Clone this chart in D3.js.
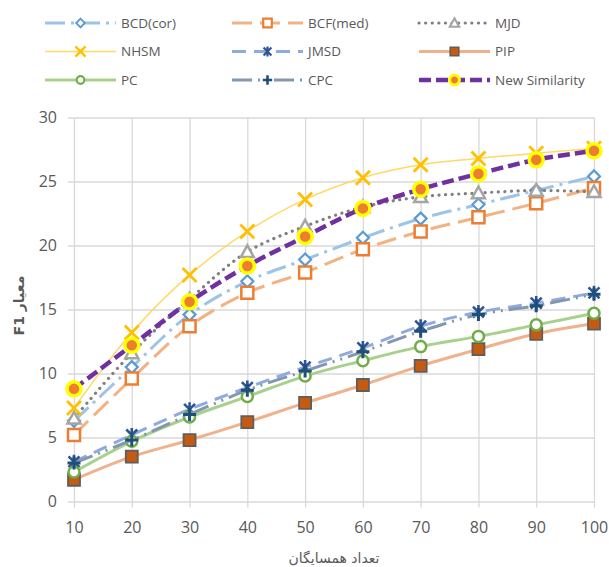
<!DOCTYPE html>
<html>
<head>
<meta charset="utf-8">
<script src="https://cdn.jsdelivr.net/npm/d3@7"></script>
<style>
  html, body { margin: 0; padding: 0; background: #ffffff; }
  svg { display: block; }
</style>
</head>
<body>
<svg id="chart" width="609" height="567"></svg>
<script>
// Neighbour counts on the category axis
const neighbours = [10, 20, 30, 40, 50, 60, 70, 80, 90, 100];
const yTicks = [0, 5, 10, 15, 20, 25, 30];

// F1 per method
const bcdCor = [6.3, 10.5, 14.6, 17.2, 18.9, 20.6, 22.1, 23.2, 24.3, 25.4];
const bcfMed = [5.2, 9.6, 13.7, 16.3, 17.9, 19.7, 21.1, 22.2, 23.3, 24.5];
const mjd    = [6.5, 11.6, 15.8, 19.5, 21.5, 23.0, 23.8, 24.1, 24.3, 24.2];
const nhsm   = [7.3, 13.2, 17.7, 21.1, 23.6, 25.3, 26.3, 26.8, 27.2, 27.6];
const jmsd   = [3.1, 5.2, 7.2, 8.9, 10.5, 12.0, 13.7, 14.8, 15.5, 16.3];
const pip    = [1.7, 3.5, 4.8, 6.2, 7.7, 9.1, 10.6, 11.9, 13.1, 13.9];
const pc     = [2.3, 4.7, 6.6, 8.2, 9.8, 11.0, 12.1, 12.9, 13.8, 14.7];
const cpc    = [3.0, 4.8, 6.8, 8.7, 10.2, 11.7, 13.3, 14.6, 15.3, 16.2];
const newSim = [8.8, 12.2, 15.6, 18.4, 20.7, 22.9, 24.4, 25.6, 26.7, 27.4];

const seriesNames = ["BCD(cor)", "BCF(med)", "MJD", "NHSM", "JMSD", "PIP", "PC", "CPC", "New Similarity"];
const seriesValues = [bcdCor, bcfMed, mjd, nhsm, jmsd, pip, pc, cpc, newSim];

// Visual style for each series (same order as names)
const styles = [
  { line: "#9DC3E6", width: 3,   dash: "20 6 3 6",        cap: "butt",  marker: "diamond",  stroke: "#5B9BD5", fill: "#ffffff", sw: 2.2, size: 12 },
  { line: "#F4B183", width: 3,   dash: "20 8",            cap: "butt",  marker: "square",   stroke: "#ED7D31", fill: "#ffffff", sw: 2.5, size: 12 },
  { line: "#7F7F7F", width: 3.2, dash: "0.1 6.5",         cap: "round", marker: "triangle", stroke: "#A5A5A5", fill: "#ffffff", sw: 2.5, size: 13 },
  { line: "#FFD966", width: 1.5, dash: null,              cap: "butt",  marker: "x",        stroke: "#FFC000", fill: "none",    sw: 2.8, size: 14 },
  { line: "#8FAADC", width: 3,   dash: "14 8",            cap: "butt",  marker: "star",     stroke: "#2F5597", fill: "none",    sw: 2.6, size: 14 },
  { line: "#F0B28C", width: 3,   dash: null,              cap: "butt",  marker: "square",   stroke: "#5E5E5E", fill: "#C55A11", sw: 1.8, size: 12 },
  { line: "#A9D18E", width: 3,   dash: null,              cap: "butt",  marker: "circle",   stroke: "#70AD47", fill: "#ffffff", sw: 2.5, size: 12 },
  { line: "#8497B0", width: 3,   dash: "20 6 2 6 2 6",    cap: "butt",  marker: "plus",     stroke: "#1F4E79", fill: "none",    sw: 3,   size: 13 },
  { line: "#7030A0", width: 4.5, dash: "12 5",            cap: "butt",  marker: "circle",   stroke: "#FFFF00", fill: "#ED7D31", sw: 3.5, size: 15 }
];

const svg = d3.select("#chart");

const plot = { left: 68, right: 594, top: 117.5, bottom: 501.5 };
const x = d3.scaleLinear().domain([10, 100]).range([74, 594]);
const y = d3.scaleLinear().domain([0, 30]).range([plot.bottom, plot.top]);

const textColor = "#595959";
const gridColor = "#D9D9D9";

// Horizontal gridlines + value labels
const yAxis = svg.append("g")
  .attr("transform", `translate(${plot.left},0)`)
  .call(d3.axisLeft(y).tickValues(yTicks).tickSize(-(plot.right - plot.left)).tickPadding(11).tickFormat(d3.format("d")));
yAxis.select(".domain").remove();
yAxis.selectAll("line").attr("stroke", gridColor).attr("stroke-width", 1.3);
yAxis.selectAll("text").attr("fill", textColor).attr("font-size", 16).attr("font-family", "'Open Sans', sans-serif");

// Vertical gridlines + category labels
const xAxis = svg.append("g")
  .attr("transform", `translate(0,${plot.bottom + 6})`)
  .call(d3.axisBottom(x).tickValues(neighbours).tickSize(-(plot.bottom + 6 - plot.top)).tickPadding(14).tickFormat(d3.format("d")));
xAxis.select(".domain").remove();
xAxis.selectAll("line").attr("stroke", gridColor).attr("stroke-width", 1.3);
xAxis.selectAll("text").attr("fill", textColor).attr("font-size", 16).attr("font-family", "'Open Sans', sans-serif");

// Marker path builder
function markerPath(type, s) {
  const h = s / 2;
  switch (type) {
    case "diamond":  return `M0,${-h}L${h},0L0,${h}L${-h},0Z`;
    case "square":   return `M${-h},${-h}H${h}V${h}H${-h}Z`;
    case "triangle": return `M0,${-h}L${h},${h * 0.8}L${-h},${h * 0.8}Z`;
    case "x":        return `M${-h},${-h}L${h},${h}M${h},${-h}L${-h},${h}`;
    case "plus":     return `M${-h},0H${h}M0,${-h}V${h}`;
    case "star": {
      const d = h * 0.78;
      return `M0,${-h}V${h}M${-d},${-d}L${d},${d}M${d},${-d}L${-d},${d}`;
    }
    case "circle": {
      const r = h - 0.5;
      return `M${r},0A${r},${r} 0 1,1 ${-r},0A${r},${r} 0 1,1 ${r},0Z`;
    }
  }
}

const lineGen = d3.line()
  .x((d, i) => x(neighbours[i]))
  .y(d => y(d))
  .curve(d3.curveCatmullRom.alpha(0.5));

const seriesG = svg.append("g");
seriesValues.forEach((vals, k) => {
  const st = styles[k];
  const g = seriesG.append("g").attr("class", "series");
  g.append("path")
    .datum(vals)
    .attr("d", lineGen)
    .attr("fill", "none")
    .attr("stroke", st.line)
    .attr("stroke-width", st.width)
    .attr("stroke-dasharray", st.dash)
    .attr("stroke-linecap", st.cap);
  g.selectAll("path.mk")
    .data(vals)
    .join("path")
    .attr("class", "mk")
    .attr("transform", (d, i) => `translate(${x(neighbours[i])},${y(d)})`)
    .attr("d", markerPath(st.marker, st.size))
    .attr("fill", st.fill)
    .attr("stroke", st.stroke)
    .attr("stroke-width", st.sw)
    .attr("stroke-linejoin", "miter");
});

// Legend: three columns, three rows
const legCols = [45, 232, 419];
const legRows = [23, 51.5, 80];
const legLen = 71;
seriesNames.forEach((name, k) => {
  const st = styles[k];
  const lx = legCols[k % 3], ly = legRows[Math.floor(k / 3)];
  const g = svg.append("g").attr("transform", `translate(${lx},${ly})`);
  g.append("line")
    .attr("x1", 0).attr("x2", legLen).attr("y1", 0).attr("y2", 0)
    .attr("stroke", st.line)
    .attr("stroke-width", st.width)
    .attr("stroke-dasharray", st.dash)
    .attr("stroke-linecap", st.cap);
  g.append("path")
    .attr("transform", `translate(${legLen / 2},0)`)
    .attr("d", markerPath(st.marker, st.size * 0.72))
    .attr("fill", st.fill)
    .attr("stroke", st.stroke)
    .attr("stroke-width", st.sw * 0.85);
  g.append("text")
    .attr("x", legLen + 5)
    .attr("y", 0)
    .attr("dy", "0.35em")
    .attr("fill", textColor)
    .attr("font-size", 13.5)
    .attr("font-family", "'Open Sans', sans-serif")
    .text(name);
});

// Axis titles
svg.append("text")
  .attr("x", (x(10) + x(100)) / 2)
  .attr("y", 558)
  .attr("dy", "0.35em")
  .attr("text-anchor", "middle")
  .attr("direction", "rtl")
  .attr("fill", textColor)
  .attr("font-size", 14)
  .attr("font-family", "'DejaVu Sans', sans-serif")
  .text("تعداد همسایگان");

svg.append("text")
  .attr("transform", `translate(19,${(plot.top + plot.bottom) / 2 - 4}) rotate(-90)`)
  .attr("dy", "0.35em")
  .attr("text-anchor", "middle")
  .attr("direction", "rtl")
  .attr("fill", textColor)
  .attr("font-size", 14)
  .attr("font-weight", "bold")
  .attr("font-family", "'DejaVu Sans', sans-serif")
  .text("معیار F1");
</script>
</body>
</html>
